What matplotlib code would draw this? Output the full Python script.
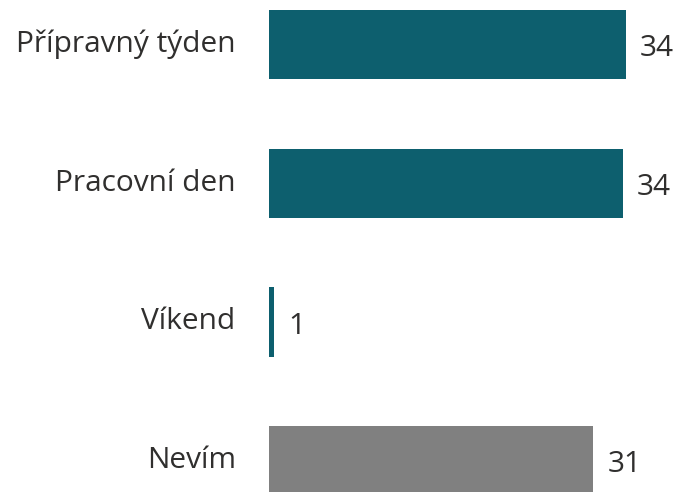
import matplotlib
matplotlib.use("Agg")
import matplotlib.pyplot as plt

categories = ["Přípravný týden", "Pracovní den", "Víkend", "Nevím"]
values = [34.0, 33.7, 0.5, 30.9]
value_labels = ["34", "34", "1", "31"]
colors = ["#0D5F6E", "#0D5F6E", "#0D5F6E", "#808080"]

plt.rcParams["font.family"] = ["Open Sans", "DejaVu Sans"]

W, H, DPI = 680, 492, 100
fig = plt.figure(figsize=(W / DPI, H / DPI), dpi=DPI)

# axes placed so the bar origin sits at x=269px, 10.5 px per unit
x0_px, px_per_unit = 269, 10.5
xmax = (W - x0_px) / px_per_unit
ax = fig.add_axes([x0_px / W, 0, 1 - x0_px / W, 1])
ax.set_xlim(0, xmax)

# category centres at 44.5px from top, 138.7px apart
top_c, step = 44.5, 138.7
ax.set_ylim(3 + (H - top_c - 3 * step) / step, -top_c / step)

ypos = range(len(categories))
ax.barh(ypos, values, height=0.5, color=colors)

for y, v, lab in zip(ypos, values, value_labels):
    ax.annotate(lab, (v, y), xytext=(10, -3), textcoords="offset points",
                va="center", ha="left", fontsize=21.5, color="#302f2e")

for y, cat in zip(ypos, categories):
    ax.annotate(cat, (0, y), xytext=(-24, 0), textcoords="offset points",
                va="center", ha="right", fontsize=21.5, color="#302f2e",
                annotation_clip=False)

ax.axis("off")
fig.savefig("out.png", dpi=DPI)
